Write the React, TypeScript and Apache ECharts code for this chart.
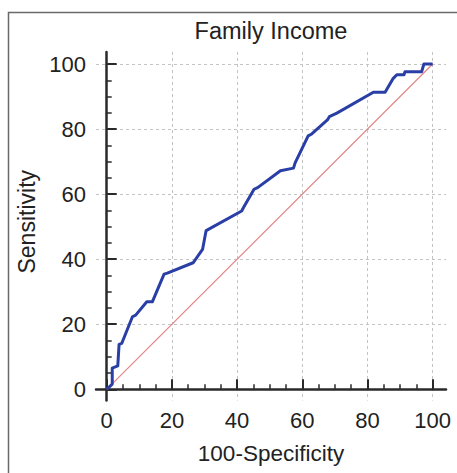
import React, { useEffect, useRef } from "react";
import * as echarts from "echarts";

const titleText = "Family Income";
const xName = "100-Specificity";
const yName = "Sensitivity";
const majorTicks = [0, 20, 40, 60, 80, 100];
const minorTicks = [0, 5, 10, 15, 20, 25, 30, 35, 40, 45, 50, 55, 60, 65, 70, 75, 80, 85, 90, 95, 100];

// ROC curve points: [100-Specificity, Sensitivity]
const rocX = [0, 1.7, 1.7, 3.4, 3.8, 4.6, 7.9, 8.9, 12.3, 14, 17.6, 18.6, 26.5, 29.4, 30.5, 41.4, 42.1, 45.2, 46.3, 53.3, 57.3, 57.8, 61.8, 62.9, 67.7, 68.3, 70.6, 81.8, 85.4, 87.9, 89, 91.2, 91.5, 96.6, 97.3, 100];
const rocY = [0, 1.6, 6.5, 7.2, 13.8, 14.1, 22.3, 22.8, 26.9, 26.9, 35.4, 35.7, 38.9, 43.0, 48.8, 54.8, 56.1, 61.5, 62, 67.2, 68, 69.6, 77.9, 78.5, 82.8, 83.8, 84.9, 91.3, 91.3, 95.6, 96.7, 96.7, 97.6, 97.6, 100, 100];
const diagX = [0, 100];
const diagY = [0, 100];

const FONT = "'Liberation Sans', Arial, sans-serif";
const X_MIN = -3.28, X_MAX = 104.08;
const Y_MIN = -3.44, Y_MAX = 103.69;

export default function App() {
  const ref = useRef<HTMLDivElement>(null);
  useEffect(() => {
    if (!ref.current) return;
    const chart = echarts.init(ref.current, null, { renderer: "svg" });
    const axisCommon = {
      type: "value",
      axisLine: { show: true, lineStyle: { color: "#2a2a2a", width: 2.5 } },
    };
    chart.setOption({
      animation: false,
      grid: { left: 96, right: 11, top: 52, bottom: 72.5, containLabel: false },
      graphic: [
        {
          type: "rect",
          shape: { x: 8.5, y: 12.5, width: 520, height: 520 },
          style: { fill: "none", stroke: "#6a6a6a", lineWidth: 1.5 },
          z: -1,
        },
        {
          type: "text",
          x: 271,
          y: 31,
          style: {
            text: titleText,
            fontSize: 23.5,
            fontFamily: FONT,
            fill: "#222",
            textAlign: "center",
            textVerticalAlign: "middle",
          },
        },
      ],
      xAxis: [
        {
          ...axisCommon,
          position: "bottom",
          min: X_MIN,
          max: X_MAX,
          name: xName,
          nameLocation: "middle",
          nameGap: 41,
          nameTextStyle: { fontSize: 22.5, fontFamily: FONT, color: "#222" },
          axisTick: { show: true, inside: true, length: 10, customValues: majorTicks, lineStyle: { color: "#2a2a2a", width: 2 } },
          axisLabel: { customValues: majorTicks, fontSize: 22, fontFamily: FONT, color: "#222", margin: 9 },
          splitLine: { show: true, lineStyle: { color: "#c4c4c4", type: [3, 3], width: 1 } },
        },
        {
          type: "value",
          position: "bottom",
          min: X_MIN,
          max: X_MAX,
          axisLine: { show: false },
          axisLabel: { show: false },
          splitLine: { show: false },
          axisTick: { show: true, inside: true, length: 5, customValues: minorTicks, lineStyle: { color: "#2a2a2a", width: 1.5 } },
        },
      ],
      yAxis: [
        {
          ...axisCommon,
          position: "left",
          min: Y_MIN,
          max: Y_MAX,
          name: yName,
          nameLocation: "middle",
          nameGap: 58,
          nameTextStyle: { fontSize: 23, fontFamily: FONT, color: "#222", padding: [0, 0, 0, 9] },
          axisTick: { show: true, inside: true, length: 10, customValues: majorTicks, lineStyle: { color: "#2a2a2a", width: 2 } },
          axisLabel: { customValues: majorTicks, fontSize: 22, fontFamily: FONT, color: "#222", margin: 10 },
          splitLine: { show: true, lineStyle: { color: "#c4c4c4", type: [3, 3], width: 1 } },
        },
        {
          type: "value",
          position: "left",
          min: Y_MIN,
          max: Y_MAX,
          axisLine: { show: false },
          axisLabel: { show: false },
          splitLine: { show: false },
          axisTick: { show: true, inside: true, length: 5, customValues: minorTicks, lineStyle: { color: "#2a2a2a", width: 1.5 } },
        },
      ],
      series: [
        {
          type: "line",
          xAxisIndex: 0,
          yAxisIndex: 0,
          data: diagX.map((x, i) => [x, diagY[i]]),
          showSymbol: false,
          symbol: "none",
          lineStyle: { color: "#e08686", width: 1.2 },
          z: 2,
        },
        {
          type: "line",
          xAxisIndex: 0,
          yAxisIndex: 0,
          data: rocX.map((x, i) => [x, rocY[i]]),
          showSymbol: false,
          symbol: "none",
          lineStyle: { color: "#2a3fa6", width: 3, join: "round" },
          z: 3,
        },
      ],
    });
    return () => chart.dispose();
  }, []);
  return (
    <div
      ref={ref}
      style={{ position: "absolute", left: 0, top: 0, width: 457, height: 473, background: "#fff" }}
    />
  );
}
